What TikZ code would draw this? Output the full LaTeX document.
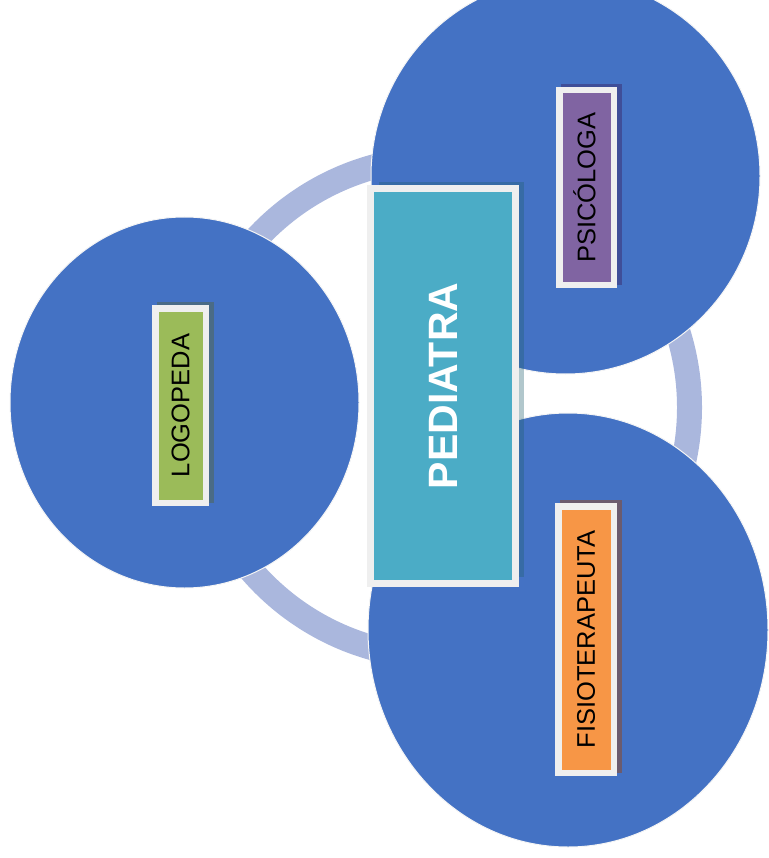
\documentclass[tikz,border=0pt]{standalone}
\usepackage{fontspec}
\setsansfont{Liberation Sans}
\usetikzlibrary{shapes.geometric,shadows}
\definecolor{ringblue}{HTML}{AAB7DD}
\definecolor{discblue}{HTML}{4472C4}
\definecolor{tagline}{HTML}{EFEFEF}
\definecolor{pedteal}{HTML}{4BACC6}
\definecolor{psipurple}{HTML}{8064A2}
\definecolor{logogreen}{HTML}{9BBB59}
\definecolor{fisioorange}{HTML}{F79646}
\definecolor{psishade}{HTML}{3F4E98}
\definecolor{logoshade}{HTML}{4A6B86}
\definecolor{fisioshade}{HTML}{6B5B6E}
\definecolor{pedshade}{HTML}{1F5F6E}
\begin{document}
\begin{tikzpicture}[x=1pt,y=-1pt,
    rolebox/.style={draw=tagline,line width=6.5pt,inner sep=0pt,fill=#1,
      font=\sffamily\fontsize{25.5}{30}\selectfont},
    roleshadow/.style={drop shadow={shadow xshift=5pt,shadow yshift=3pt,
      opacity=1,fill=#1,draw=#1}}]

  \useasboundingbox (0,0) rectangle (768,858);
  \clip (0,0) rectangle (768,858);

  \coordinate (hub) at (440,407.5);
  \draw[ringblue,line width=25pt] (hub) circle[radius=249.5];

  \begin{scope}[every node/.style={ellipse,fill=discblue,draw=white!92!gray,
      line width=1pt,inner sep=0pt}]
    \node[minimum width=349,minimum height=371] (logo)  at (184.5,402.5) {};
    \node[minimum width=389,minimum height=396] (psi)   at (565.5,176)   {};
    \node[minimum width=400,minimum height=434] (fisio) at (568,630)     {};
  \end{scope}

  \node[rolebox=logogreen,roleshadow=logoshade,minimum width=50.5,
        minimum height=194.5] (logotag) at (180.5,405.5)
        {\rotatebox{90}{LOGOPEDA}};
  \node[rolebox=psipurple,roleshadow=psishade,minimum width=54.5,
        minimum height=194.5] (psitag) at (586.5,187.5)
        {\rotatebox{90}{PSIC\smash{Ó}LOGA}};
  \node[rolebox=fisioorange,roleshadow=fisioshade,minimum width=55.5,
        minimum height=266.5] (fisiotag) at (586,639.5)
        {\rotatebox{90}{FISIOTERAPEUTA}};

  \node[draw=tagline,line width=7pt,fill=pedteal,inner sep=0pt,
        minimum width=145,minimum height=395,
        drop shadow={shadow xshift=8.5pt,shadow yshift=6.5pt,
          fill=pedshade,opacity=.35},
        text=white,font=\sffamily\bfseries\fontsize{41}{48}\selectfont]
        (ped) at (443,386) {\rotatebox{90}{PEDIATRA}};

\end{tikzpicture}
\end{document}
